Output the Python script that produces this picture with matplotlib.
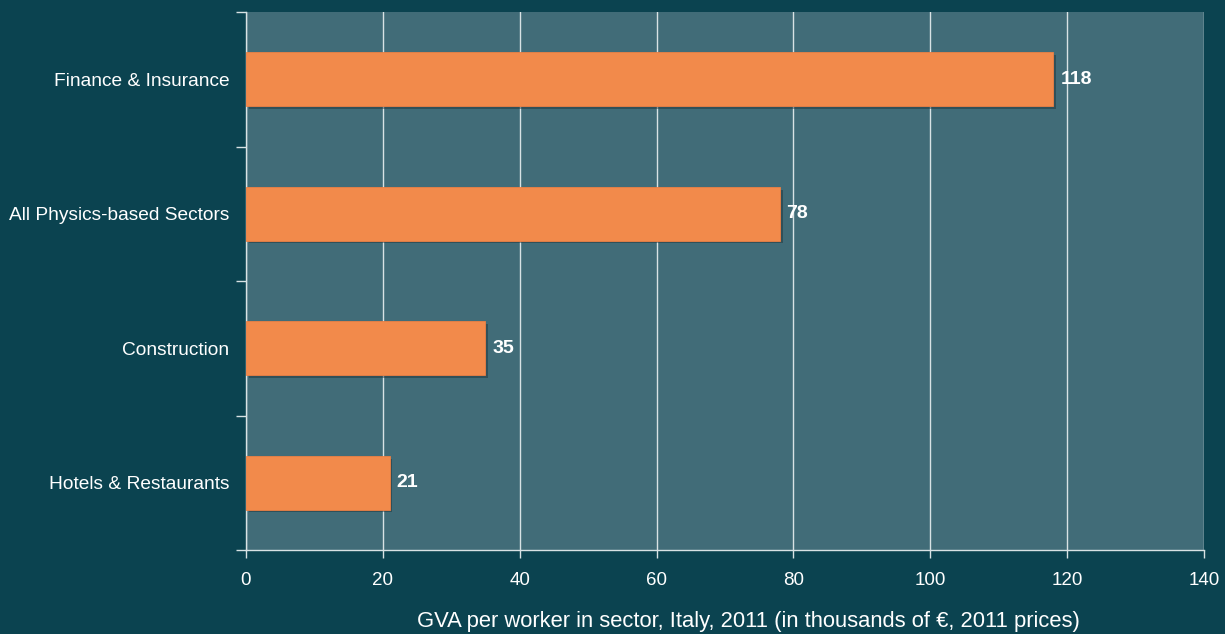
import matplotlib.pyplot as plt
import matplotlib.patheffects as pe

# GVA per worker, thousands of euro (2011 prices)
sectors = ["Finance & Insurance", "All Physics-based Sectors", "Construction", "Hotels & Restaurants"]
gva = [118, 78, 35, 21]
xticks = [0, 20, 40, 60, 80, 100, 120, 140]

bg = "#0b4350"
panel = "#416c78"
bar_col = "#f28a4b"
txt = "white"

plt.rcParams['font.family'] = ['Liberation Sans', 'DejaVu Sans']

fig = plt.figure(figsize=(12.25, 6.34), dpi=100, facecolor=bg)
ax = fig.add_axes([0.2008, 0.1325, 0.7821, 0.8485])
ax.set_facecolor(panel)

ypos = list(range(len(sectors)))
bars = ax.barh(ypos, gva, height=0.40, color=bar_col, edgecolor="#ec8044", linewidth=0.6, zorder=3)
for b in bars:
    b.set_path_effects([pe.SimplePatchShadow(offset=(2, -2), shadow_rgbFace="#1c2f35", alpha=0.45),
                        pe.Normal()])

for y, v in zip(ypos, gva):
    ax.text(v + 1.0, y, str(v), va="center", ha="left", color=txt,
            fontsize=14, fontweight="bold", zorder=4)

ax.set_xlim(0, 140)
ax.set_ylim(3.5, -0.5)
ax.set_xticks(xticks)
ax.set_xticklabels([str(t) for t in xticks], color=txt, fontsize=13.5)
ax.xaxis.grid(True, color="#d8e2e4", linewidth=1.0, zorder=1)
ax.set_axisbelow(True)

# category labels at bar centres, ticks on the boundaries between them
ax.set_yticks(ypos)
ax.set_yticklabels(sectors, color=txt, fontsize=13.8)
ax.tick_params(axis="y", which="major", length=0, pad=12)
ax.set_yticks([-0.5, 0.5, 1.5, 2.5, 3.5], minor=True)
ax.tick_params(axis="y", which="minor", length=7, color="#d8e2e4", width=1)
ax.tick_params(axis="x", length=6, color="#d8e2e4", width=1, pad=10)

for s in ["top", "right"]:
    ax.spines[s].set_visible(False)
for s in ["left", "bottom"]:
    ax.spines[s].set_color("#d8e2e4")
    ax.spines[s].set_linewidth(1.0)

ax.set_xlabel("GVA per worker in sector, Italy, 2011 (in thousands of €, 2011 prices)",
              color=txt, fontsize=15.8)
ax.xaxis.set_label_coords(0.524, -0.113)

fig.savefig("out.png", dpi=100, facecolor=bg)
